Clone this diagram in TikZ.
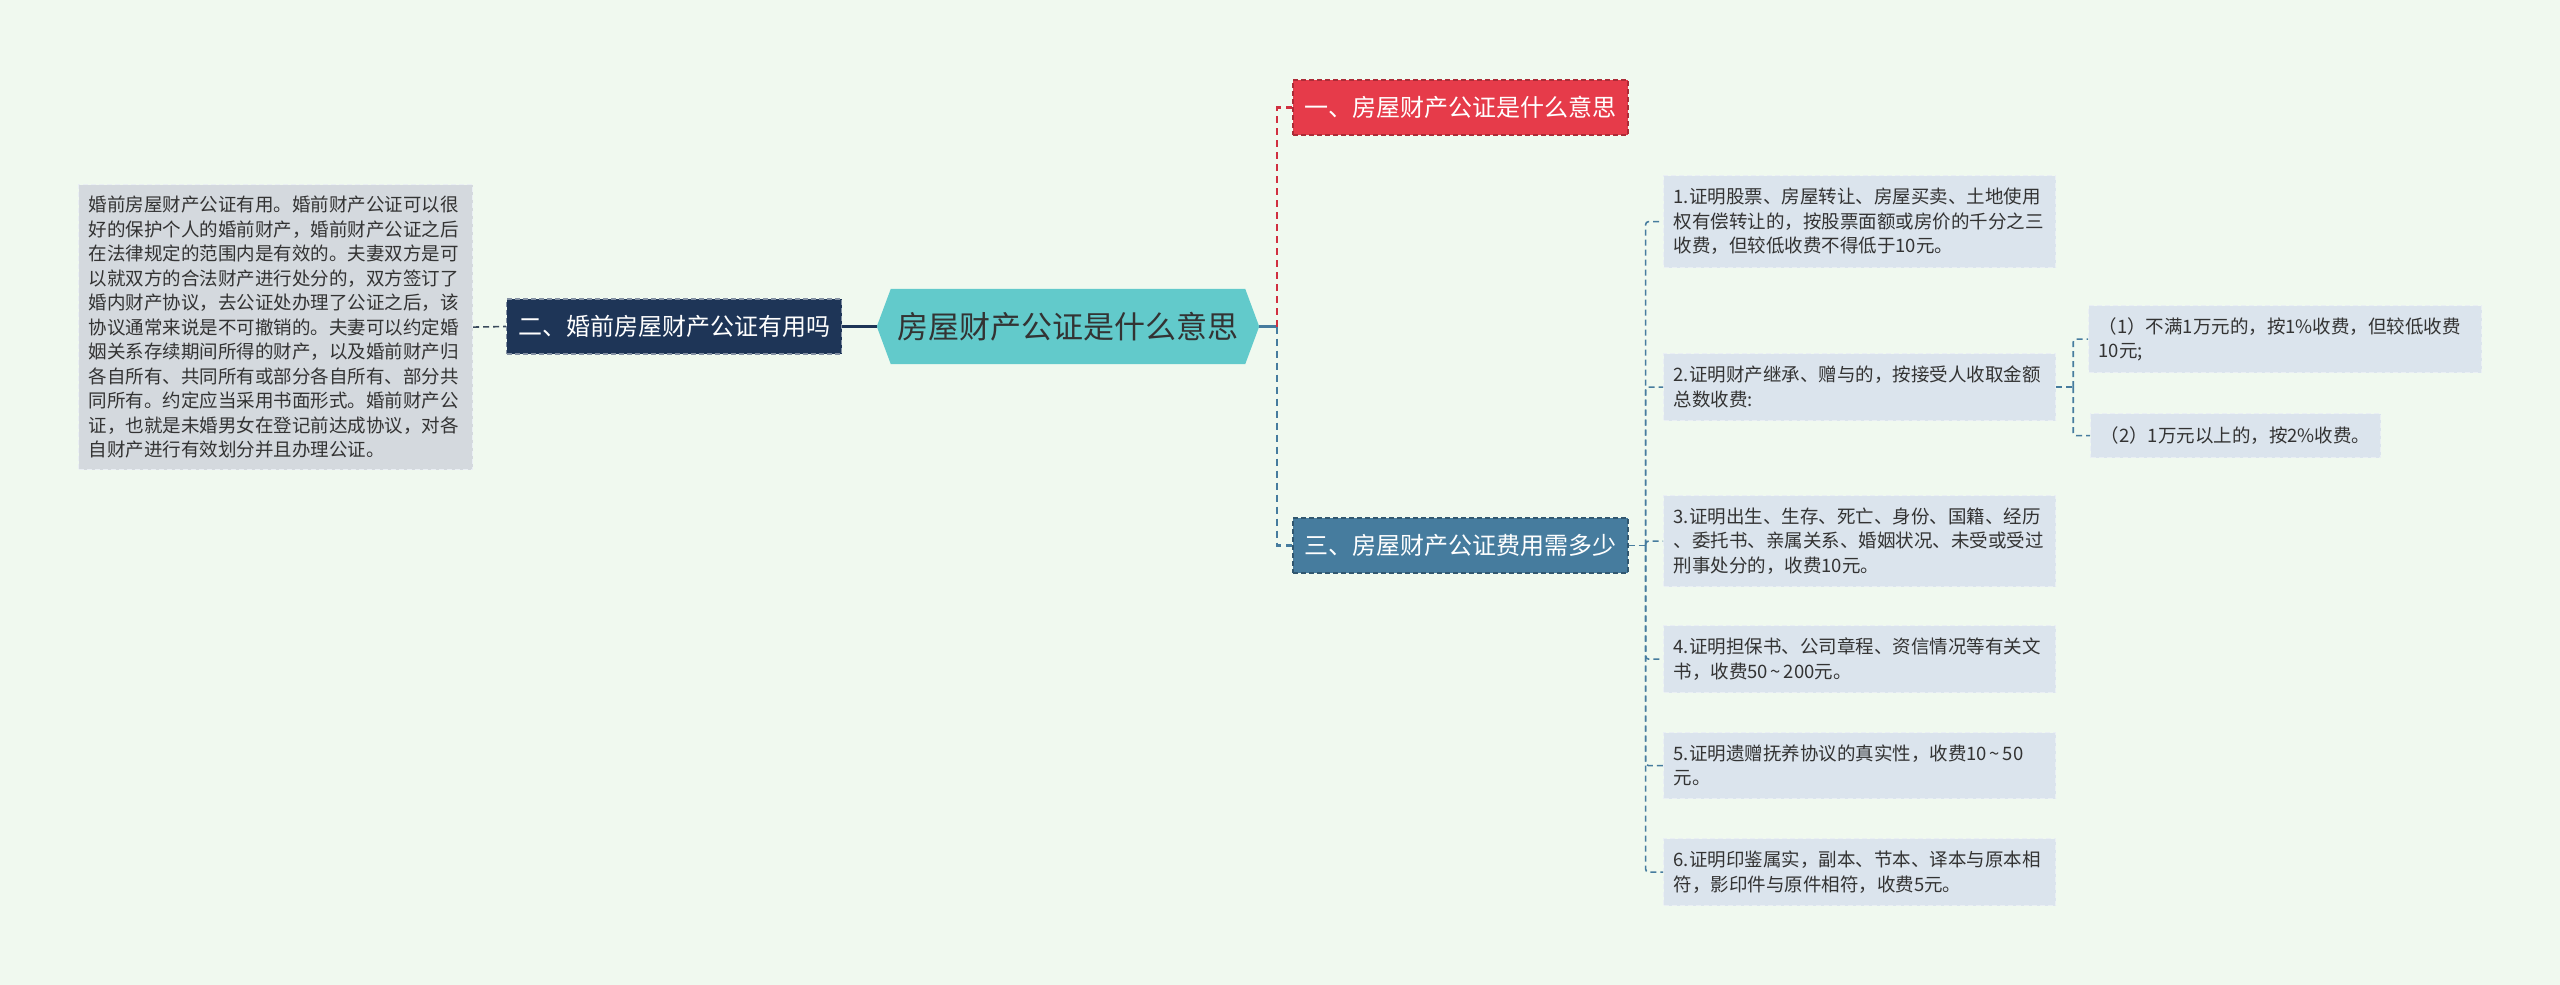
\documentclass[tikz,border=0pt]{standalone}
\usepackage{fontspec}
\setmainfont{Noto Sans CJK SC}
\usetikzlibrary{backgrounds}
\definecolor{bg}{HTML}{F0F9EF}
\definecolor{redc}{HTML}{E63B4A}
\definecolor{navyc}{HTML}{1E3557}
\definecolor{bluec}{HTML}{467C9E}
\definecolor{hexc}{HTML}{62CACB}
\definecolor{leaffill}{HTML}{DBE4ED}
\definecolor{leafdraw}{HTML}{EAEFF4}
\definecolor{grayfill}{HTML}{D4D9DE}
\definecolor{txt}{HTML}{333333}
\definecolor{redline}{HTML}{D03040}
\definecolor{darkline}{HTML}{3A4A5C}
\newcommand{\tld}{\hspace{0.15em}\textasciitilde\hspace{0.15em}}
\tikzset{
  leaf/.style={anchor=north west, fill=leaffill, draw=leafdraw, dash pattern=on 5pt off 3pt,
    line width=1.2pt, inner xsep=10pt, inner ysep=4pt, align=left, text=txt,
    font=\fontsize{18.5pt}{24.5pt}\selectfont},
  mainbox/.style={minimum width=335pt, minimum height=55pt, inner sep=0pt, text=white,
    dash pattern=on 5pt off 3pt, line width=1.2pt, font=\fontsize{24pt}{28pt}\selectfont},
  conn/.style={line width=2.2pt, dash pattern=on 7pt off 5pt},
  subconn/.style={line width=1.6pt, dash pattern=on 6pt off 4pt, draw=bluec, rounded corners=3pt},
}
\begin{document}
\begin{tikzpicture}[x=1pt,y=-1pt]
\useasboundingbox (0,0) rectangle (2560,985);

% root
\node[minimum width=382pt, minimum height=75pt, inner sep=0pt, text=txt,
      font=\fontsize{31pt}{34pt}\selectfont] (root) at (1068,326.5) {房屋财产公证是什么意思};
\begin{scope}[on background layer]
  \fill[bg] (0,0) rectangle (2560,985);
  \fill[hexc] (root.west) -- ([xshift=14pt]root.north west) -- ([xshift=-14pt]root.north east)
     -- (root.east) -- ([xshift=-14pt]root.south east) -- ([xshift=14pt]root.south west) -- cycle;
\end{scope}

% main branches
\node[mainbox, fill=redc, draw=redc!75!black] (n1) at (1460.5,107.5) {一、房屋财产公证是什么意思};
\node[mainbox, fill=navyc, draw=navyc!55!white] (n2) at (674,326.5) {二、婚前房屋财产公证有用吗};
\node[mainbox, fill=bluec, draw=bluec!70!black] (n3) at (1460.5,545.5) {三、房屋财产公证费用需多少};

% left leaf
\node[leaf, fill=grayfill, text width=374pt, minimum height=285pt] (lb) at (78,184) {婚前房屋财产公证有用。婚前财产公证可以很\\好的保护个人的婚前财产，婚前财产公证之后\\在法律规定的范围内是有效的。夫妻双方是可\\以就双方的合法财产进行处分的，双方签订了\\婚内财产协议，去公证处办理了公证之后，该\\协议通常来说是不可撤销的。夫妻可以约定婚\\姻关系存续期间所得的财产，以及婚前财产归\\各自所有、共同所有或部分各自所有、部分共\\同所有。约定应当采用书面形式。婚前财产公\\证，也就是未婚男女在登记前达成协议，对各\\自财产进行有效划分并且办理公证。};

% right leaves
\node[leaf, text width=372pt, minimum height=92pt] (c1) at (1663,175) {1.证明股票、房屋转让、房屋买卖、土地使用\\权有偿转让的，按股票面额或房价的千分之三\\收费，但较低收费不得低于10元。};
\node[leaf, text width=372pt, minimum height=67pt] (c2) at (1663,353) {2.证明财产继承、赠与的，按接受人收取金额\\总数收费:};
\node[leaf, text width=372pt, minimum height=91pt] (c3) at (1663,495) {3.证明出生、生存、死亡、身份、国籍、经历\\、委托书、亲属关系、婚姻状况、未受或受过\\刑事处分的，收费10元。};
\node[leaf, text width=372pt, minimum height=67pt] (c4) at (1663,625) {4.证明担保书、公司章程、资信情况等有关文\\书，收费50\tld 200元。};
\node[leaf, text width=372pt, minimum height=66pt] (c5) at (1663,732) {5.证明遗赠抚养协议的真实性，收费10\tld 50\\元。};
\node[leaf, text width=372pt, minimum height=67pt] (c6) at (1663,838) {6.证明印鉴属实，副本、节本、译本与原本相\\符，影印件与原件相符，收费5元。};

\node[leaf, text width=373pt, minimum height=67pt] (s1) at (2088,305) {（1）不满1万元的，按1\%收费，但较低收费\\10元;};
\node[leaf, text width=270pt, minimum height=44pt] (s2) at (2090,413) {（2）1万元以上的，按2\%收费。};

% connectors
\draw[line width=1.6pt, dash pattern=on 6pt off 4pt, darkline] (lb.east) -- (n2.west);
\draw[line width=3pt, navyc] (n2.east) -- (root.west);
\draw[line width=3pt, bluec] (root.east) -- ++(18,0) coordinate (J);
\draw[conn, redline] (J) |- (n1.west);
\draw[conn, bluec] (J) |- (n3.west);

\draw[subconn] (n3.east) -- ++(17,0) coordinate (K);
\foreach \c in {c1,c2,c3,c4,c5,c6} \draw[subconn] (K) |- (\c.west);

\draw[subconn] (c2.east) -- ++(17,0) coordinate (L);
\draw[subconn] (L) |- (s1.west);
\draw[subconn] (L) |- (s2.west);
\end{tikzpicture}
\end{document}
